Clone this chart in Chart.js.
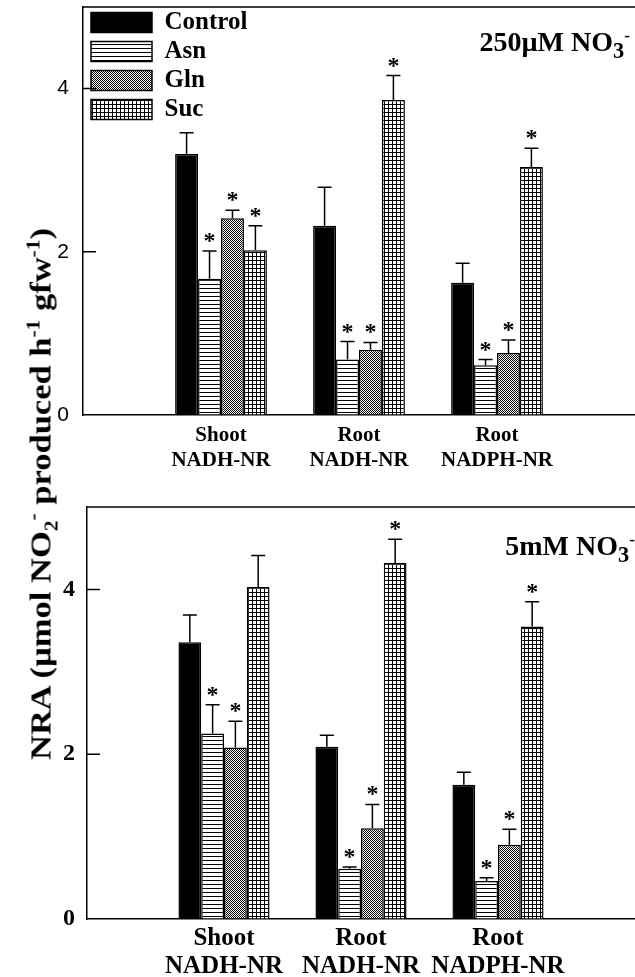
<!DOCTYPE html>
<html>
<head>
<meta charset="utf-8">
<script src="https://cdn.jsdelivr.net/npm/chart.js@4.4.0/dist/chart.umd.min.js"></script>
<style>
  body { margin: 0; background: #fff; }
  #page { position: relative; width: 635px; height: 977px; overflow: hidden;
          font-family: 'Liberation Serif', 'DejaVu Serif', serif; font-weight: bold; color: #000; }
  canvas { position: absolute; left: 0; }
  #topChart { top: 0; }
  #bottomChart { top: 480px; }
  .title { position: absolute; font-size: 28px; line-height: 28px; white-space: nowrap; }
  .title sub { font-size: 0.8em; }
  #topTitle { right: 5px; top: 28px; }
  #bottomTitle { right: 0px; top: 532px; }
  #yTitle { position: absolute; left: 41px; top: 494px; font-size: 29px; line-height: 29px; white-space: nowrap;
            transform: translate(-50%, -50%) rotate(-90deg) scaleX(1.19); }
  sub, sup { font-size: 0.62em; line-height: 0; }
</style>
</head>
<body>
<div id="page">
  <canvas id="topChart" width="635" height="480"></canvas>
  <canvas id="bottomChart" width="635" height="497"></canvas>
  <div class="title" id="topTitle">250µM NO<sub>3</sub><sup>-</sup></div>
  <div class="title" id="bottomTitle">5mM NO<sub>3</sub><sup>-</sup></div>
  <div id="yTitle">NRA (µmol NO<sub>2</sub><sup>-</sup> produced h<sup>-1</sup> gfw<sup>-1</sup>)</div>
</div>
<script>
// categories (empty slots at both ends so the groups sit like in the figure)
let categories = ['', ['Shoot', 'NADH-NR'], ['Root', 'NADH-NR'], ['Root', 'NADPH-NR'], ''];
let treatments = ['Control', 'Asn', 'Gln', 'Suc'];
let yTicks = [0, 2, 4];

// 250 µM NO3- (top panel)
let control250 = [3.20, 2.32, 1.62];
let asn250 = [1.67, 0.68, 0.61];
let gln250 = [2.41, 0.80, 0.76];
let suc250 = [2.02, 3.86, 3.04];
let control250Err = [0.26, 0.47, 0.24];
let asn250Err = [0.34, 0.22, 0.07];
let gln250Err = [0.10, 0.09, 0.16];
let suc250Err = [0.30, 0.30, 0.23];
let control250Star = [0, 0, 0];
let asn250Star = [1, 1, 1];
let gln250Star = [1, 1, 1];
let suc250Star = [1, 1, 1];

// 5 mM NO3- (bottom panel)
let control5 = [3.36, 2.09, 1.63];
let asn5 = [2.25, 0.61, 0.46];
let gln5 = [2.08, 1.10, 0.90];
let suc5 = [4.03, 4.32, 3.55];
let control5Err = [0.33, 0.14, 0.15];
let asn5Err = [0.35, 0.02, 0.04];
let gln5Err = [0.32, 0.29, 0.19];
let suc5Err = [0.38, 0.29, 0.30];
let control5Star = [0, 0, 0];
let asn5Star = [1, 1, 1];
let gln5Star = [1, 1, 1];
let suc5Star = [0, 1, 1];

const SERIF = "'Liberation Serif', 'DejaVu Serif', serif";
Chart.defaults.color = '#000';

// hatch patterns for the bars
function makePattern(kind) {
  let c = document.createElement('canvas');
  c.width = 4; c.height = 4;
  let g = c.getContext('2d');
  g.fillStyle = '#fff';
  g.fillRect(0, 0, 4, 4);
  g.fillStyle = '#000';
  if (kind === 'lines') g.fillRect(0, 0, 4, 1);
  if (kind === 'checker') {
    for (let y = 0; y < 4; y++)
      for (let x = 0; x < 4; x++)
        if ((x + y) % 2 === 0) g.fillRect(x, y, 1, 1);
  }
  if (kind === 'grid') { g.fillRect(0, 0, 4, 1); g.fillRect(0, 0, 1, 4); }
  return document.getElementById('topChart').getContext('2d').createPattern(c, 'repeat');
}
let fills = ['#000', makePattern('lines'), makePattern('checker'), makePattern('grid')];

// error bars, asterisks, top frame line and inward y ticks
function panelExtras(errors, stars) {
  return {
    id: 'panelExtras',
    afterDatasetsDraw(chart) {
      let c = chart.ctx, area = chart.chartArea, y = chart.scales.y;
      c.save();
      c.strokeStyle = '#000';
      c.fillStyle = '#000';
      c.lineWidth = 1.5;
      c.font = 'bold 24px ' + SERIF;
      c.textAlign = 'center';
      c.textBaseline = 'alphabetic';
      chart.data.datasets.forEach((ds, i) => {
        chart.getDatasetMeta(i).data.forEach((bar, j) => {
          let v = ds.data[j];
          if (v === null || v === undefined) return;
          let top = y.getPixelForValue(v + errors[i][j - 1]);
          c.beginPath();
          c.moveTo(bar.x, bar.y);
          c.lineTo(bar.x, top);
          c.moveTo(bar.x - 7, top);
          c.lineTo(bar.x + 7, top);
          c.stroke();
          if (stars[i][j - 1]) c.fillText('*', bar.x, top - 3);
        });
      });
      c.beginPath();
      c.moveTo(area.left, area.top);
      c.lineTo(area.right, area.top);
      yTicks.forEach(t => {
        if (t === 0) return;
        let py = y.getPixelForValue(t);
        c.moveTo(area.left, py);
        c.lineTo(area.left + 13, py);
      });
      c.stroke();
      c.restore();
    }
  };
}

// the legend sits inside the plot, nudge it off the frame
let legendShift = {
  id: 'legendShift',
  afterLayout(chart) {
    let lg = chart.legend;
    if (!lg || !chart.options.plugins.legend.display) return;
    lg.left += 4; lg.right += 4;
    lg.top += 6; lg.bottom += 6;
  }
};

function buildPanel(id, values, errors, stars, p) {
  return new Chart(document.getElementById(id), {
    type: 'bar',
    data: {
      labels: categories,
      datasets: treatments.map((name, i) => ({
        label: name,
        data: [null].concat(values[i], [null]),
        backgroundColor: fills[i],
        borderColor: '#000',
        borderWidth: 1.5
      }))
    },
    options: {
      responsive: false,
      animation: false,
      events: [],
      categoryPercentage: 0.665,
      barPercentage: 1,
      layout: { padding: { top: p.top, left: 0, right: 0, bottom: 0 } },
      scales: {
        x: {
          offset: false,
          grid: { drawOnChartArea: false, drawTicks: false },
          border: { color: '#000', width: 1.5 },
          ticks: { autoSkip: false, maxRotation: 0, padding: p.xPad,
                   font: { family: SERIF, size: p.xSize, weight: 'bold', lineHeight: p.xLine } },
          afterFit: s => { s.height = p.xHeight; s.paddingLeft = 0; s.paddingRight = 0; }
        },
        y: {
          min: 0,
          max: 5,
          afterBuildTicks: s => { s.ticks = yTicks.map(v => ({ value: v })); },
          grid: { drawOnChartArea: false, drawTicks: false },
          border: { color: '#000', width: 1.5 },
          ticks: { padding: p.yPad, font: p.yFont },
          afterFit: s => { s.width = p.left; s.paddingTop = 0; s.paddingBottom = 0; }
        }
      },
      plugins: {
        tooltip: { enabled: false },
        legend: {
          display: p.legend,
          position: 'chartArea',
          align: 'start',
          labels: { boxWidth: 61, boxHeight: 20, padding: 4,
                    font: { family: SERIF, size: 25, weight: 'bold' } }
        }
      }
    },
    plugins: [panelExtras(errors, stars), legendShift]
  });
}

buildPanel('topChart',
  [control250, asn250, gln250, suc250],
  [control250Err, asn250Err, gln250Err, suc250Err],
  [control250Star, asn250Star, gln250Star, suc250Star],
  { top: 7, left: 83, xHeight: 65, xPad: 8, xSize: 21, xLine: 1.2, yPad: 14,
    yFont: { family: "'Liberation Sans', sans-serif", size: 21 }, legend: true });

buildPanel('bottomChart',
  [control5, asn5, gln5, suc5],
  [control5Err, asn5Err, gln5Err, suc5Err],
  [control5Star, asn5Star, gln5Star, suc5Star],
  { top: 27, left: 87, xHeight: 58, xPad: 6, xSize: 25, xLine: 1.1, yPad: 12,
    yFont: { family: SERIF, size: 24, weight: 'bold' }, legend: false });
</script>
</body>
</html>
